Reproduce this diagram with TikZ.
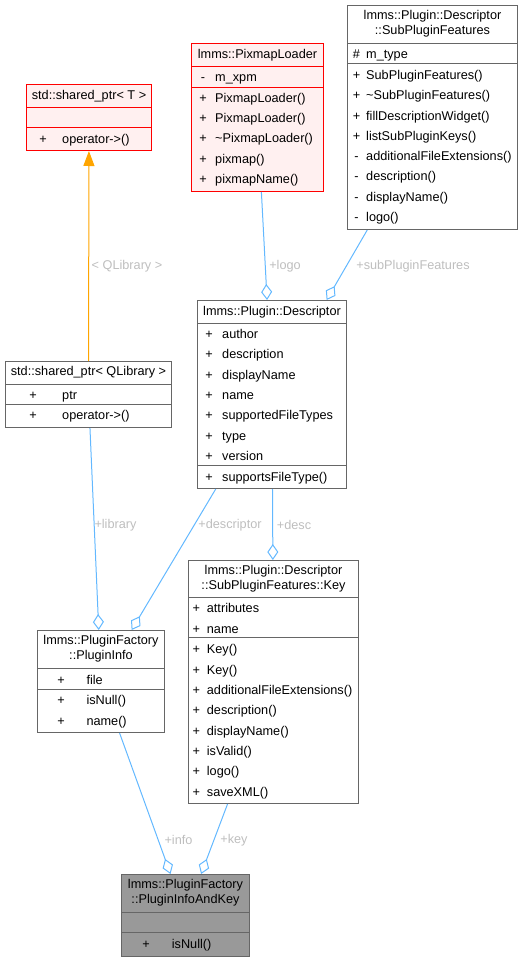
\documentclass[tikz,border=0pt]{standalone}
\usepackage{fontspec}
\setmainfont{Liberation Sans}
\usepackage{xcolor}
\definecolor{edgeblue}{RGB}{99, 184, 255}
\definecolor{boxgrey}{RGB}{102, 102, 102}
\definecolor{lblgrey}{RGB}{190, 190, 190}
\definecolor{missred}{RGB}{255, 0, 0}
\definecolor{misspink}{RGB}{255, 240, 240}
\definecolor{focusgrey}{RGB}{153, 153, 153}
\definecolor{inhorange}{RGB}{255, 165, 0}
\usepackage{tikz}
\usetikzlibrary{arrows.meta, calc}

\begin{document}
\begin{tikzpicture}[
    x=1pt, y=-1pt, font=\fontsize{12.7}{15}\selectfont,
    cls/.style={draw=boxgrey, fill=white, line width=1pt, inner sep=0pt, anchor=north west},
    miss/.style={cls, draw=missred, fill=misspink},
    focus/.style={cls, fill=focusgrey},
    ttl/.style={align=center, inner sep=0pt},
    sgn/.style={anchor=base, inner sep=0pt},
    mbr/.style={anchor=base west, inner sep=0pt},
    lbl/.style={text=lblgrey, inner sep=0pt},
    agg/.style={color=edgeblue, line width=1pt, -{Diamond[open, length=16pt, width=11pt]}},
    inh/.style={color=inhorange, line width=1pt, -{Triangle[length=15pt, width=11pt]}}
  ]
  \useasboundingbox (0,0) rectangle (525,961);
  \node[miss, minimum width=125pt, minimum height=66pt] (shptrT) at (26,84) {};
  \node[miss, minimum width=132pt, minimum height=148pt] (pixmap) at (191,43) {};
  \node[cls, minimum width=170pt, minimum height=224pt] (spf) at (347,5) {};
  \node[cls, minimum width=166pt, minimum height=66pt] (shptrQ) at (5,361) {};
  \node[cls, minimum width=149pt, minimum height=188pt] (desc) at (197,300) {};
  \node[cls, minimum width=170pt, minimum height=243pt] (key) at (188,560) {};
  \node[cls, minimum width=127pt, minimum height=102pt] (pinfo) at (37,630) {};
  \node[focus, minimum width=128pt, minimum height=82pt] (pik) at (121,874) {};
  \foreach \n/\c/\a/\b in {shptrT/missred/23.5/43.5, pixmap/missred/23.5/44,
      spf/boxgrey/38/58, shptrQ/boxgrey/23/43, desc/boxgrey/23.5/165,
      key/boxgrey/37.5/77.5, pinfo/boxgrey/38/59, pik/boxgrey/38/58.5} {
    \draw[\c, line width=1pt] ($(\n.north west)+(0,\a)$) -- ($(\n.north east)+(0,\a)$);
    \draw[\c, line width=1pt] ($(\n.north west)+(0,\b)$) -- ($(\n.north east)+(0,\b)$);
  }
  \node[ttl] (shptrT-t) at ($(shptrT.north)+(0,11.75)$) {std::shared\_ptr< T >};
  \node[ttl] (pixmap-t) at ($(pixmap.north)+(0,11.75)$) {lmms::PixmapLoader};
  \node[ttl] (spf-t) at ($(spf.north)+(0,19)$) {lmms::Plugin::Descriptor\\::SubPluginFeatures};
  \node[ttl] (shptrQ-t) at ($(shptrQ.north)+(0,11.5)$) {std::shared\_ptr< QLibrary >};
  \node[ttl] (desc-t) at ($(desc.north)+(0,11.75)$) {lmms::Plugin::Descriptor};
  \node[ttl] (key-t) at ($(key.north)+(0,18.75)$) {lmms::Plugin::Descriptor\\::SubPluginFeatures::Key};
  \node[ttl] (pinfo-t) at ($(pinfo.north)+(0,19)$) {lmms::PluginFactory\\::PluginInfo};
  \node[ttl] (pik-t) at ($(pik.north)+(0,19)$) {lmms::PluginFactory\\::PluginInfoAndKey};
  \foreach \y/\s/\m [count=\i] in {143.5/+/operator->()} {
    \node[sgn] (shptrT-s\i) at (43,\y) {\s};
    \node[mbr] (shptrT-m\i) at (62,\y) {\m};
  }
  \foreach \y/\s/\m [count=\i] in {81.5/-/m\_xpm, 102.5/+/PixmapLoader(),
      122.5/+/PixmapLoader(), 142.5/+/\textasciitilde PixmapLoader(),
      163.5/+/pixmap(), 183.5/+/pixmapName()} {
    \node[sgn] (pixmap-s\i) at (203,\y) {\s};
    \node[mbr] (pixmap-m\i) at (215,\y) {\m};
  }
  \foreach \y/\s/\m [count=\i] in {58.5/\#/m\_type, 79.2/+/SubPluginFeatures(),
      99.5/+/\textasciitilde SubPluginFeatures(), 120.2/+/fillDescriptionWidget(),
      140.5/+/listSubPluginKeys(), 160.2/-/additionalFileExtensions(),
      180.5/-/description(), 201.2/-/displayName(), 221.5/-/logo()} {
    \node[sgn] (spf-s\i) at (356.5,\y) {\s};
    \node[mbr] (spf-m\i) at (366,\y) {\m};
  }
  \foreach \y/\s/\m [count=\i] in {399.5/+/ptr, 419.8/+/operator->()} {
    \node[sgn] (shptrQ-s\i) at (33,\y) {\s};
    \node[mbr] (shptrQ-m\i) at (62,\y) {\m};
  }
  \foreach \y/\s/\m [count=\i] in {338.5/+/author, 358.8/+/description,
      379.2/+/displayName, 399.5/+/name, 419.8/+/supportedFileTypes,
      440.2/+/type, 460.5/+/version, 481.2/+/supportsFileType()} {
    \node[sgn] (desc-s\i) at (209,\y) {\s};
    \node[mbr] (desc-m\i) at (222,\y) {\m};
  }
  \foreach \y/\s/\m [count=\i] in {612.8/+/attributes, 633.2/+/name,
      653.2/+/Key(), 674.2/+/Key(), 694.2/+/additionalFileExtensions(),
      714.5/+/description(), 735.2/+/displayName(), 755.5/+/isValid(),
      775.2/+/logo(), 796.2/+/saveXML()} {
    \node[sgn] (key-s\i) at (196.3,\y) {\s};
    \node[mbr] (key-m\i) at (206.7,\y) {\m};
  }
  \foreach \y/\s/\m [count=\i] in {684.2/+/file, 704.5/+/isNull(), 725.2/+/name()} {
    \node[sgn] (pinfo-s\i) at (61,\y) {\s};
    \node[mbr] (pinfo-m\i) at (86.3,\y) {\m};
  }
  \foreach \y/\s/\m [count=\i] in {948.2/+/isNull()} {
    \node[sgn] (pik-s\i) at (146.2,\y) {\s};
    \node[mbr] (pik-m\i) at (171.7,\y) {\m};
  }
  \path[inh] (shptrQ) edge (shptrT);
  \path[agg]
    (pixmap) edge (desc)
    (spf) edge (desc)
    (shptrQ) edge (pinfo)
    (desc) edge (pinfo)
    (desc) edge (key)
    (pinfo) edge (pik)
    (key) edge (pik)
    ;
  \node[lbl] (l-qlib) at (127,266) {< QLibrary >};
  \node[lbl] (l-logo) at (285,266) {+logo};
  \node[lbl] (l-spf) at (413,266) {+subPluginFeatures};
  \node[lbl] (l-lib) at (115.5,525) {+library};
  \node[lbl] (l-descr) at (230,525) {+descriptor};
  \node[lbl] (l-desc) at (294,525) {+desc};
  \node[lbl] (l-info) at (178.5,840) {+info};
  \node[lbl] (l-key) at (234,840) {+key};
\end{tikzpicture}
\end{document}
